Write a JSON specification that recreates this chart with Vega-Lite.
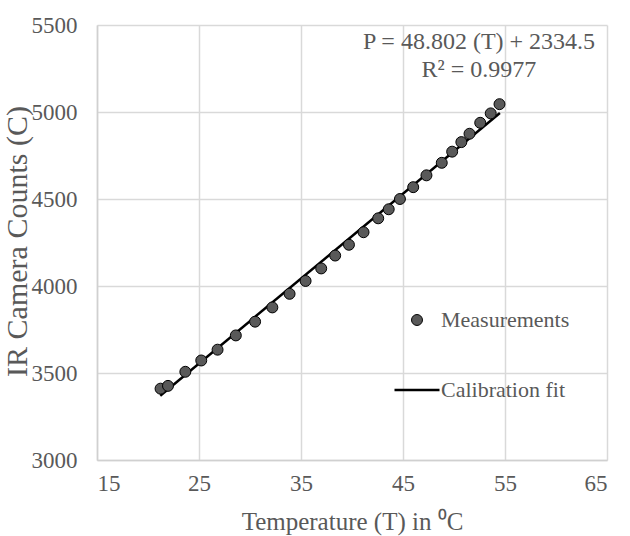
{
  "$schema": "https://vega.github.io/schema/vega-lite/v6.json",
  "autosize": {"type": "none"},
  "padding": {"left": 97, "top": 25, "right": 23, "bottom": 76},
  "width": 510,
  "height": 435,
  "background": "white",
  "config": {
    "view": {"stroke": null},
    "font": "Liberation Serif",
    "axis": {
      "labelFont": "Liberation Serif",
      "titleFont": "Liberation Serif",
      "labelColor": "#595959",
      "titleColor": "#595959",
      "labelFontSize": 23,
      "titleFontSize": 25,
      "titleFontWeight": "normal",
      "gridColor": "#d9d9d9",
      "gridWidth": 1.5,
      "domainColor": "#d0d0d0",
      "domainWidth": 1.5,
      "ticks": false
    },
    "legend": {"labelFont": "Liberation Serif"},
    "text": {"font": "Liberation Serif"}
  },
  "datasets": {
    "measurements": [
      {"T": 21.23, "C": 3410, "series": "Measurements"},
      {"T": 21.96, "C": 3426, "series": "Measurements"},
      {"T": 23.66, "C": 3507, "series": "Measurements"},
      {"T": 25.22, "C": 3572, "series": "Measurements"},
      {"T": 26.82, "C": 3634, "series": "Measurements"},
      {"T": 28.61, "C": 3716, "series": "Measurements"},
      {"T": 30.5, "C": 3795, "series": "Measurements"},
      {"T": 32.19, "C": 3877, "series": "Measurements"},
      {"T": 33.88, "C": 3955, "series": "Measurements"},
      {"T": 35.45, "C": 4029, "series": "Measurements"},
      {"T": 36.98, "C": 4101, "series": "Measurements"},
      {"T": 38.35, "C": 4175, "series": "Measurements"},
      {"T": 39.7, "C": 4237, "series": "Measurements"},
      {"T": 41.13, "C": 4309, "series": "Measurements"},
      {"T": 42.57, "C": 4389, "series": "Measurements"},
      {"T": 43.6, "C": 4441, "series": "Measurements"},
      {"T": 44.7, "C": 4500, "series": "Measurements"},
      {"T": 46.0, "C": 4568, "series": "Measurements"},
      {"T": 47.3, "C": 4636, "series": "Measurements"},
      {"T": 48.8, "C": 4708, "series": "Measurements"},
      {"T": 49.82, "C": 4772, "series": "Measurements"},
      {"T": 50.72, "C": 4827, "series": "Measurements"},
      {"T": 51.52, "C": 4875, "series": "Measurements"},
      {"T": 52.57, "C": 4938, "series": "Measurements"},
      {"T": 53.6, "C": 4992, "series": "Measurements"},
      {"T": 54.46, "C": 5045, "series": "Measurements"}
    ],
    "fit": [
      {"T": 21.2, "C": 3369, "series": "Calibration fit"},
      {"T": 54.5, "C": 4994, "series": "Calibration fit"}
    ],
    "note": [
      {"T": 52.45, "C": 5402, "label": "P = 48.802 (T) + 2334.5"},
      {"T": 52.45, "C": 5241, "label": "R² = 0.9977"}
    ]
  },
  "layer": [
    {
      "data": {"name": "fit"},
      "mark": {"type": "line", "color": "black", "strokeWidth": 2.5},
      "encoding": {
        "x": {
          "field": "T", "type": "quantitative",
          "scale": {"domain": [15, 65], "nice": false, "zero": false},
          "axis": {"values": [15, 25, 35, 45, 55, 65], "title": "Temperature (T) in ⁰C", "labelFont": "Liberation Serif", "labelPadding": 12, "titleY": 61, "titleBaseline": "middle"}
        },
        "y": {
          "field": "C", "type": "quantitative",
          "scale": {"domain": [3000, 5500], "nice": false, "zero": false},
          "axis": {"values": [3000, 3500, 4000, 4500, 5000, 5500], "format": "d", "title": "IR Camera Counts (C)", "labelFont": "Liberation Serif", "labelPadding": 20, "titleFontSize": 30, "titleAngle": -90, "titleX": -80, "titleY": 216, "titleAlign": "center", "titleBaseline": "middle"}
        }
      }
    },
    {
      "data": {"name": "measurements"},
      "mark": {"type": "point", "filled": true, "fill": "#595959", "stroke": "black", "opacity": 1},
      "encoding": {
        "x": {"field": "T", "type": "quantitative"},
        "y": {"field": "C", "type": "quantitative"},
        "shape": {
          "field": "series", "type": "nominal",
          "scale": {"domain": ["Measurements", "Calibration fit"], "range": ["circle", "stroke"]},
          "legend": {
            "title": null,
            "orient": "none",
            "legendX": 296,
            "legendY": 284,
            "padding": 0,
            "rowPadding": 35,
            "labelOffset": 0,
            "labelFont": "Liberation Serif",
            "labelFontSize": 22,
            "labelColor": "#595959",
            "labelLimit": 300,
            "symbolFillColor": "#595959",
            "symbolStrokeColor": "black",
            "symbolOpacity": 1
          }
        },
        "size": {
          "field": "series", "type": "nominal",
          "scale": {"type": "ordinal", "domain": ["Measurements", "Calibration fit"], "range": [120, 2025]},
          "legend": {"title": null}
        },
        "strokeWidth": {
          "field": "series", "type": "nominal",
          "scale": {"type": "ordinal", "domain": ["Measurements", "Calibration fit"], "range": [1, 2.5]},
          "legend": {"title": null}
        }
      }
    },
    {
      "data": {"name": "note"},
      "mark": {"type": "text", "font": "Liberation Serif", "fontSize": 24, "fill": "#595959", "align": "center", "baseline": "middle"},
      "encoding": {
        "text": {"field": "label", "type": "nominal"},
        "x": {"field": "T", "type": "quantitative"},
        "y": {"field": "C", "type": "quantitative"}
      }
    }
  ]
}
